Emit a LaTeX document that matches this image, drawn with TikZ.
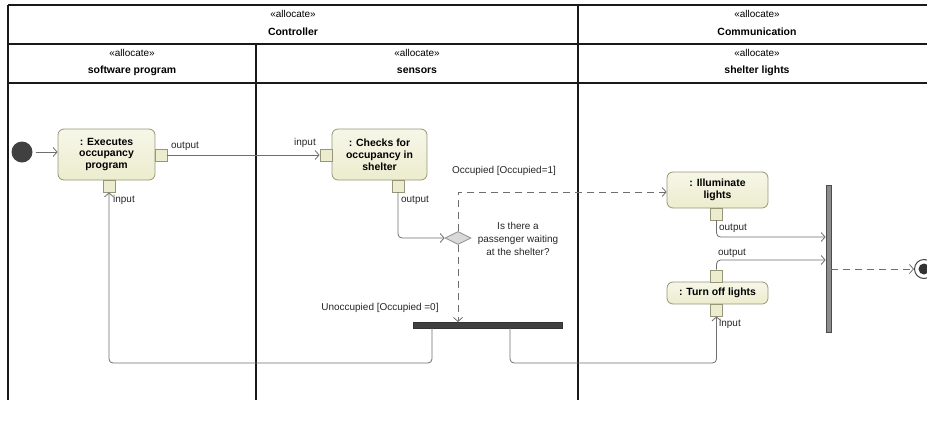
\documentclass[tikz,border=0pt]{standalone}
\usepackage{fontspec}
\setmainfont{Liberation Sans}
\usetikzlibrary{arrows.meta,shapes.geometric}
\definecolor{actfill}{RGB}{236,236,206}
\definecolor{actborder}{RGB}{150,150,120}
\definecolor{conn}{RGB}{110,110,110}
\definecolor{lane}{RGB}{25,25,25}
\tikzset{
  lanesep/.style={draw=lane,line width=1.6bp},
  action/.style={draw=actborder,line width=0.8bp,rounded corners=6bp,top color=actfill!45,bottom color=actfill,
     align=center,font=\fontsize{10.5}{12}\selectfont\bfseries,inner sep=0pt},
  pin/.style={draw=actborder,line width=0.8bp,fill=actfill,minimum width=12bp,minimum height=12bp,inner sep=0pt},
  flow/.style={draw=conn,line width=0.8bp,rounded corners=4bp,-{Straight Barb[length=4bp,width=9bp]}},
  dflow/.style={flow,dash pattern=on 7bp off 5bp},
  lbl/.style={font=\fontsize{10}{12}\selectfont,inner sep=0pt,text=black!85},
  hdr/.style={font=\fontsize{10}{12}\selectfont,inner sep=0pt},
  hdrb/.style={font=\fontsize{10.5}{12}\selectfont\bfseries,inner sep=0pt},
}
\begin{document}
\begin{tikzpicture}[x=1bp,y=-1bp]
\useasboundingbox (0,0) rectangle (927,423);
% swimlanes
\draw[lanesep] (8,5) -- (930,5);
\draw[lanesep] (8,44) -- (930,44);
\draw[lanesep] (8,83) -- (930,83);
\draw[lanesep] (8,5) -- (8,400);
\draw[lanesep] (256,44) -- (256,400);
\draw[lanesep] (578,5) -- (578,400);
\node[hdr]  (h1a) at (293,14) {«allocate»};
\node[hdrb] (h1b) at (293,32) {Controller};
\node[hdr]  (h2a) at (757,14) {«allocate»};
\node[hdrb] (h2b) at (757,32) {Communication};
\node[hdr]  (h3a) at (132,53) {«allocate»};
\node[hdrb] (h3b) at (132,71) {software program};
\node[hdr]  (h4a) at (417,53) {«allocate»};
\node[hdrb] (h4b) at (417,71) {sensors};
\node[hdr]  (h5a) at (757,53) {«allocate»};
\node[hdrb] (h5b) at (757,71) {shelter lights};
% actions
\node[action,minimum width=97bp,minimum height=51bp] (exec) at (106.5,154.5) {: Executes\\occupancy\\program};
\node[action,minimum width=95bp,minimum height=51bp] (sens) at (379.5,154.5) {: Checks for\\occupancy in\\shelter};
\node[action,minimum width=101bp,minimum height=36bp] (ill) at (717.5,190) {: Illuminate\\lights};
\node[action,minimum width=101bp,minimum height=22bp] (off) at (717.5,293) {: Turn off lights};
% pins
\node[pin] (execout) at (161,155) {};
\node[pin] (execin) at (109,186) {};
\node[pin] (sensin) at (326,155) {};
\node[pin] (sensout) at (398,186) {};
\node[pin] (illout) at (716.5,214) {};
\node[pin] (offout) at (716.5,276) {};
\node[pin] (offin) at (716.5,310) {};
% control nodes
\node[circle,fill=black!75,minimum size=21bp,inner sep=0pt] (init) at (22,152) {};
\node[diamond,draw=black!45,fill=black!15,line width=0.8bp,minimum width=26bp,minimum height=13bp,inner sep=0pt] (dec) at (458,238) {};
\node[draw=black!80,fill=black!75,minimum width=149bp,minimum height=6bp,inner sep=0pt] (fork) at (487.5,325) {};
\node[draw=black!70,fill=black!45,line width=0.8bp,minimum width=5bp,minimum height=147bp,inner sep=0pt] (join) at (828.5,258.5) {};
\node[circle,draw=black!75,line width=1bp,minimum size=19bp,inner sep=0pt] (final) at (924,269) {};
\node[circle,fill=black!80,minimum size=11bp,inner sep=0pt] (finaldot) at (924,269) {};
% coordinates
\coordinate (c1) at (458,192);
\coordinate (forkL) at (432,328);
\coordinate (forkR) at (510,328);
\coordinate (forkT) at (458,322);
% flows
\draw[flow] ([xshift=3bp]init.east) -- (exec.west |- init.east);
\draw[flow] (execout.east) -- (sensin.west);
\draw[flow] (sensout.south) |- (dec.west);
\draw[dflow,rounded corners=0pt] (dec.north) -- (c1) -- (ill.west |- c1);
\draw[dflow] (dec.south) -- (forkT);
\draw[flow] (forkL) |- (109,363) -- (execin.south);
\draw[flow] (forkR) |- (716.5,363) -- (offin.south);
\draw[flow] (illout.south) |- (join.west |- 0,237);
\draw[flow] (offout.north) |- (join.west |- 0,260);
\draw[dflow] (join.east |- final.west) -- (final.west);
% labels
\node[lbl] (l1) at (185,146) {output};
\node[lbl] (l2) at (124,200) {input};
\node[lbl] (l3) at (305,143) {input};
\node[lbl] (l4) at (415,200) {output};
\node[lbl] (l5) at (504,171) {Occupied [Occupied=1]};
\node[lbl,align=center,font=\fontsize{10}{13}\selectfont] (l6) at (518,239) {Is there a\\passenger waiting\\at the shelter?};
\node[lbl] (l7) at (380,308) {Unoccupied [Occupied =0]};
\node[lbl] (l8) at (733,228) {output};
\node[lbl] (l9) at (732,253) {output};
\node[lbl] (l10) at (730,324) {input};
\end{tikzpicture}
\end{document}
